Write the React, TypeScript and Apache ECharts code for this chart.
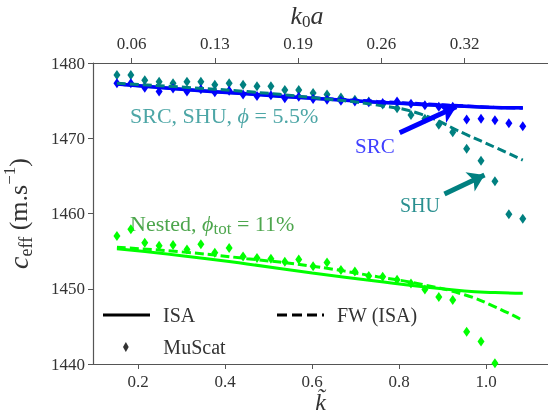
import React, { useEffect, useRef } from 'react';
import * as echarts from 'echarts';

// ---------- data ----------
const kTilde = [0.151, 0.183, 0.215, 0.248, 0.28, 0.312, 0.344, 0.376, 0.409, 0.441, 0.473, 0.505, 0.537, 0.569, 0.602,
  0.634, 0.666, 0.698, 0.73, 0.762, 0.795, 0.827, 0.859, 0.891, 0.923, 0.955, 0.988, 1.02, 1.052, 1.084];

const srcMuScat = [1477.3, 1477.3, 1476.7, 1476.2, 1476.6, 1476.2, 1476.5, 1476.1, 1476.3, 1475.8, 1475.6, 1475.7, 1475.3, 1475.5, 1475.2,
  1475.1, 1475.0, 1474.9, 1474.8, 1474.7, 1474.9, 1474.6, 1474.4, 1474.2, 1474.2, 1472.5, 1472.6, 1472.4, 1472.0, 1471.6];

const shuMuScat = [1478.4, 1478.4, 1477.7, 1477.5, 1477.3, 1477.5, 1477.5, 1477.1, 1477.3, 1477.1, 1476.9, 1476.9, 1476.4, 1476.4, 1476.0,
  1475.8, 1475.4, 1475.1, 1474.9, 1474.5, 1474.0, 1473.1, 1472.6, 1471.8, 1470.8, 1468.6, 1467.0, 1464.3, 1459.9, 1459.3];

const nestedMuScat = [1457.0, 1457.9, 1456.1, 1455.7, 1455.8, 1455.2, 1455.9, 1454.8, 1455.4, 1454.3, 1454.1, 1454.0, 1453.6, 1453.9, 1453.0,
  1453.5, 1452.5, 1452.3, 1451.7, 1451.6, 1451.2, 1450.7, 1449.9, 1448.9, 1448.5, 1444.3, 1443.0, 1440.1];

const lineK = [0.151, 0.3, 0.45, 0.6, 0.75, 0.85, 0.95, 1.02, 1.084];
const srcIsa = [1477.2, 1476.5, 1475.9, 1475.3, 1474.8, 1474.5, 1474.25, 1474.1, 1474.05];
const srcFw = [1477.2, 1476.6, 1476.0, 1475.4, 1474.9, 1474.6, 1474.3, 1474.1, 1474.0];
const shuIsa = [1477.2, 1476.5, 1475.9, 1475.3, 1474.8, 1474.5, 1474.25, 1474.1, 1474.05];
const shuFw = [1477.3, 1476.8, 1476.2, 1475.4, 1474.4, 1473.2, 1470.6, 1468.8, 1467.1];
const nestedIsa = [1455.3, 1454.4, 1453.3, 1452.1, 1451.0, 1450.3, 1449.7, 1449.5, 1449.4];
const nestedFw = [1455.5, 1454.9, 1454.0, 1453.0, 1451.6, 1450.6, 1449.2, 1447.6, 1445.8];

const bottomTicks = [0.2, 0.4, 0.6, 0.8, 1.0];
const topTickPositions = [0.1848, 0.3762, 0.5676, 0.759, 0.9504];
const topTickLabels = ['0.06', '0.13', '0.19', '0.26', '0.32'];

const srcArrow = [[0.801, 1470.74], [0.931, 1474.19]];
const shuArrow = [[0.904, 1462.59], [0.996, 1465.12]];

// ---------- styles ----------
const FONT = "'Liberation Serif', 'DejaVu Serif', serif";
const BLUE = '#0000ff';
const TEAL = '#008080';
const LIME = '#00ff00';
const AXIS = '#555555';
const TXT = '#333333';
const DASH = [9, 4];

const ICON_SOLID = 'path://M0,0 L47,0 L47,3 L0,3 Z';
const ICON_DASHED = 'path://M0,0 L10,0 L10,3 L0,3 Z M15,0 L25,0 L25,3 L15,3 Z M30,0 L40,0 L40,3 L30,3 Z M45,0 L47,0 L47,3 L45,3 Z';
const ICON_DIAMOND = 'path://M5,0 L9,7 L5,14 L1,7 Z';

const zip = (xs: number[], ys: number[]) => ys.map((y, i) => [xs[i], y]);

export default function App() {
  const ref = useRef<HTMLDivElement>(null);
  useEffect(() => {
    if (!ref.current) return;
    const chart = echarts.init(ref.current, undefined, { renderer: 'svg' });

    const lineSeries = (name: string, xs: number[], ys: number[], color: string, dashed: boolean, width = 3) => ({
      name, type: 'line', data: zip(xs, ys), symbol: 'none', smooth: true, xAxisIndex: 0, yAxisIndex: 0,
      lineStyle: { color, width, type: dashed ? DASH : 'solid' }, itemStyle: { color }, silent: true,
    });
    const scatterSeries = (name: string, xs: number[], ys: number[], color: string, extra: any = {}) => ({
      name, type: 'scatter', data: zip(xs, ys), symbol: 'diamond', symbolSize: [7, 10], clip: true,
      itemStyle: { color, opacity: 1 }, silent: true, ...extra,
    });
    const arrow = (pts: number[][], color: string) => ({
      silent: true, symbol: ['none', 'arrow'], symbolSize: [16, 16], animation: false,
      label: { show: false }, lineStyle: { color, width: 5, type: 'solid', opacity: 1 },
      data: [[{ coord: pts[0] }, { coord: pts[1] }]],
    });

    const axisCommon = {
      type: 'value', min: 0.096, max: 1.142, splitLine: { show: false },
      axisLine: { show: true, lineStyle: { color: AXIS, width: 1.2 } },
      axisTick: { show: true, length: 5, inside: false, lineStyle: { color: AXIS } },
    };
    const legendText = (pad: number) => ({ fontFamily: FONT, fontSize: 20, color: TXT, padding: [0, 0, 0, pad] });

    chart.setOption({
      animation: false,
      grid: { left: 93, top: 63, right: 0, bottom: 50, outerBoundsMode: 'none' } as any,
      xAxis: [
        {
          ...axisCommon, position: 'bottom',
          axisTick: { ...axisCommon.axisTick, customValues: bottomTicks },
          axisLabel: { customValues: bottomTicks, formatter: (v: number) => v.toFixed(1), color: TXT, fontFamily: FONT, fontSize: 17, margin: 9 },
          name: 'k\u0303', nameLocation: 'middle', nameGap: 30, nameMoveOverlap: false,
          nameTextStyle: { fontFamily: FONT, fontStyle: 'italic', fontSize: 24, color: TXT, lineHeight: 16 },
        },
        {
          ...axisCommon, position: 'top',
          axisTick: { ...axisCommon.axisTick, customValues: topTickPositions },
          axisLabel: {
            customValues: topTickPositions, color: TXT, fontFamily: FONT, fontSize: 17, margin: 11,
            formatter: (v: number) => {
              let best = 0;
              topTickPositions.forEach((p, i) => { if (Math.abs(p - v) < Math.abs(topTickPositions[best] - v)) best = i; });
              return topTickLabels[best];
            },
          },
          name: '{k|k}{s|0}{k|a}', nameLocation: 'middle', nameGap: 30,
          nameTextStyle: {
            color: TXT, padding: [0, 27, 0, 0],
            rich: {
              k: { fontFamily: FONT, fontStyle: 'italic', fontSize: 26, color: TXT, lineHeight: 30 },
              s: { fontFamily: FONT, fontSize: 17, color: TXT, verticalAlign: 'bottom', lineHeight: 17 },
            },
          },
        },
      ],
      yAxis: {
        type: 'value', min: 1440, max: 1480, interval: 10, splitLine: { show: false },
        axisLine: { show: true, lineStyle: { color: AXIS, width: 1.2 } },
        axisTick: { show: true, length: 5, inside: false, lineStyle: { color: AXIS } },
        axisLabel: { color: TXT, fontFamily: FONT, fontSize: 17, margin: 8, formatter: (v: number) => String(v) },
        name: '{c|c}{sub|eff}{t| (m.s}{sup|\u22121}{t|)}', nameLocation: 'middle', nameGap: 58, nameRotate: 90,
        nameTextStyle: {
          color: TXT,
          rich: {
            c: { fontFamily: FONT, fontStyle: 'italic', fontSize: 28, color: TXT, lineHeight: 34 },
            t: { fontFamily: FONT, fontSize: 26, color: TXT, lineHeight: 34 },
            sub: { fontFamily: FONT, fontSize: 18, color: TXT, verticalAlign: 'bottom', lineHeight: 18 },
            sup: { fontFamily: FONT, fontSize: 17, color: TXT, verticalAlign: 'top', lineHeight: 17 },
          },
        },
      },
      legend: [
        {
          data: [{ name: 'ISA', icon: ICON_SOLID }], left: 103, top: 305, padding: 0, itemWidth: 47, itemHeight: 14,
          selectedMode: false, textStyle: legendText(8),
        },
        {
          data: [{ name: 'FW (ISA)', icon: ICON_DASHED }], left: 277, top: 305, padding: 0, itemWidth: 47, itemHeight: 14,
          selectedMode: false, textStyle: legendText(8),
        },
        {
          data: [{ name: 'MuScat', icon: ICON_DIAMOND }], left: 123, top: 337, padding: 0,
          itemWidth: 7, itemHeight: 10, selectedMode: false, textStyle: legendText(29),
        },
      ],
      series: [
        lineSeries('Nested ISA', lineK, nestedIsa, LIME, false),
        lineSeries('Nested FW', lineK, nestedFw, LIME, true),
        scatterSeries('Nested MuScat', kTilde.slice(0, nestedMuScat.length), nestedMuScat, LIME),
        lineSeries('SHU ISA', lineK, shuIsa, TEAL, false),
        lineSeries('SRC ISA', lineK, srcIsa, BLUE, false, 3.5),
        lineSeries('SRC FW', lineK, srcFw, BLUE, true),
        lineSeries('SHU FW', lineK, shuFw, TEAL, true),
        scatterSeries('SHU MuScat', kTilde, shuMuScat, TEAL, { markLine: arrow(shuArrow, TEAL) }),
        scatterSeries('SRC MuScat', kTilde, srcMuScat, BLUE, { markLine: arrow(srcArrow, BLUE) }),
        { name: 'ISA', type: 'line', data: [], symbol: 'none', lineStyle: { color: '#000', width: 3 }, itemStyle: { color: '#000' } },
        { name: 'FW (ISA)', type: 'line', data: [], symbol: 'none', lineStyle: { color: '#000', width: 3, type: DASH }, itemStyle: { color: '#000' } },
        { name: 'MuScat', type: 'scatter', data: [], symbol: 'diamond', itemStyle: { color: '#000' } },
      ],
      graphic: [
        {
          type: 'text', x: 130, y: 115,
          style: {
            text: 'SRC, SHU, {i|\u03d5} = 5.5%', fill: '#4da6a6', fontFamily: FONT, fontSize: 22, verticalAlign: 'middle',
            rich: { i: { fontFamily: FONT, fontSize: 22, fontStyle: 'italic', fill: '#4da6a6' } },
          },
        },
        {
          type: 'text', x: 130, y: 223,
          style: {
            text: 'Nested, {i|\u03d5}{s|tot} = 11%', fill: '#4da64d', fontFamily: FONT, fontSize: 22, verticalAlign: 'middle',
            rich: {
              i: { fontFamily: FONT, fontSize: 22, fontStyle: 'italic', fill: '#4da64d', lineHeight: 28 },
              s: { fontFamily: FONT, fontSize: 17, fill: '#4da64d', verticalAlign: 'bottom', lineHeight: 16 },
            },
          },
        },
        {
          type: 'text', x: 355, y: 146,
          style: { text: 'SRC', fill: '#4040ff', fontFamily: FONT, fontSize: 21, verticalAlign: 'middle' },
        },
        {
          type: 'text', x: 400, y: 205,
          style: { text: 'SHU', fill: '#2a9090', fontFamily: FONT, fontSize: 20, verticalAlign: 'middle' },
        },
      ],
    });
    return () => chart.dispose();
  }, []);
  return <div ref={ref} style={{ position: 'fixed', left: 0, top: 0, width: 548, height: 414 }} />;
}
